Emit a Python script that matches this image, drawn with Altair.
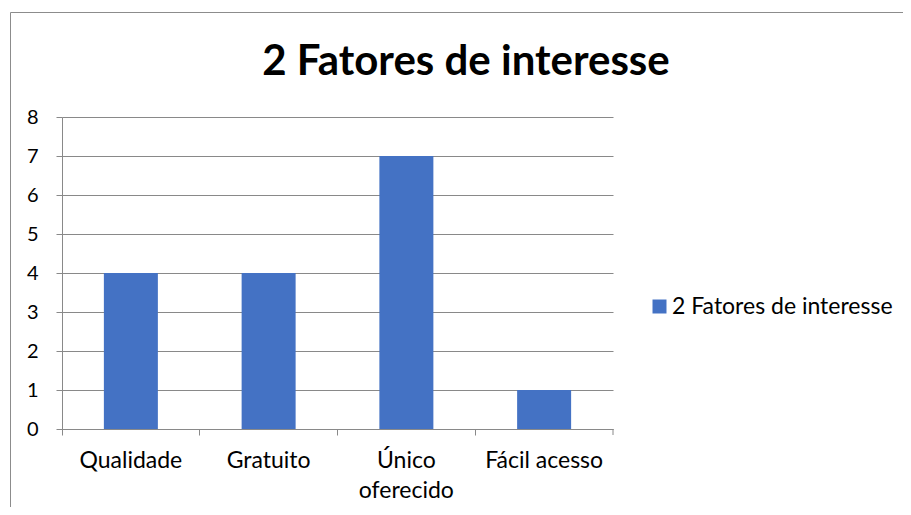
import altair as alt
import pandas as pd

categorias = ["Qualidade", "Gratuito", "Único oferecido", "Fácil acesso"]
valores = [4, 4, 7, 1]
serie = "2 Fatores de interesse"
titulo = "2 Fatores de interesse"
y_ticks = [0, 1, 2, 3, 4, 5, 6, 7, 8]

df = pd.DataFrame({"categoria": categorias, "valor": valores, "serie": [serie] * len(categorias)})

W, H = 551, 312
FONT = "Lato"
GRAY = "#898989"

x_enc = alt.X(
    "categoria:N",
    sort=categorias,
    scale=alt.Scale(paddingInner=0, paddingOuter=0),
    axis=alt.Axis(
        title=None,
        labelAngle=0,
        bandPosition=0,
        labelFont=FONT,
        labelFontSize=23,
        labelColor="#000000",
        labelPadding=14,
        labelBaseline="top",
        labelLineHeight=30,
        labelExpr="datum.value == 'Único oferecido' ? ['Único', 'oferecido'] : datum.label",
        tickSize=6,
        tickColor=GRAY,
        domainColor=GRAY,
        grid=False,
    ),
)

bars = alt.Chart(df).mark_bar(width=alt.RelativeBandSize(0.392)).encode(
    x=x_enc,
    y=alt.Y(
        "valor:Q",
        scale=alt.Scale(domain=[0, 8], nice=False),
        axis=alt.Axis(
            title=None,
            values=y_ticks,
            labelFont=FONT,
            labelFontSize=20,
            labelColor="#000000",
            labelPadding=18,
            tickSize=6,
            tickColor=GRAY,
            domainColor=GRAY,
            gridColor=GRAY,
            gridWidth=1,
        ),
    ),
    color=alt.Color(
        "serie:N",
        scale=alt.Scale(domain=[serie], range=["#4472C4"]),
        legend=alt.Legend(
            title=None,
            orient="none",
            legendX=586,
            legendY=178,
            symbolType="square",
            symbolSize=196,
            symbolStrokeWidth=0,
            labelFont=FONT,
            labelFontSize=23,
            labelColor="#000000",
            labelLimit=400,
            labelOffset=1,
            padding=0,
        ),
    ),
)

last_tick = alt.Chart(alt.Data(values=[{}])).mark_rule(color=GRAY, strokeWidth=1).encode(
    x=alt.value(W), y=alt.value(H), y2=alt.value(H + 6)
)

border = alt.Chart(alt.Data(values=[{}])).mark_rect(
    fill="transparent", stroke="#8c8c8c", strokeWidth=1
).encode(
    x=alt.value(-51.5), x2=alt.value(W + 400), y=alt.value(-104.5), y2=alt.value(H + 200)
)

title_text = alt.Chart(alt.Data(values=[{"t": titulo}])).mark_text(
    font=FONT, fontSize=42, fontWeight="bold", color="#000000",
    align="center", baseline="alphabetic",
).encode(
    text="t:N", x=alt.value(404), y=alt.value(-42)
)

chart = alt.layer(border, bars, last_tick, title_text).properties(
    width=W,
    height=H,
    padding={"left": 54, "top": 109, "right": 290, "bottom": 78},
    autosize=alt.AutoSizeParams(type="none"),
).configure_view(strokeWidth=0)

chart.save("out.html", embed_options={"renderer": "svg", "actions": False})
